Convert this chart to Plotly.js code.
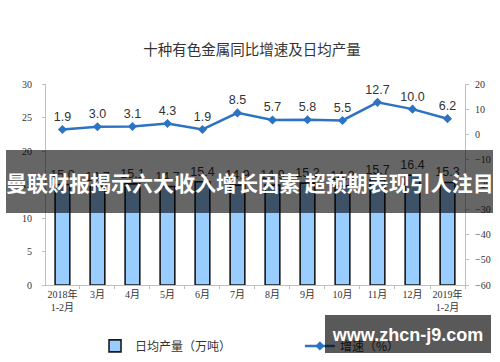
<!DOCTYPE html>
<html>
<head>
<meta charset="utf-8">
<script src="https://cdn.plot.ly/plotly-3.0.1.min.js"></script>
<style>
  html, body { margin: 0; padding: 0; background: #fff; }
  #wrap { position: relative; width: 500px; height: 362px; overflow: hidden; }
  #chart { width: 500px; height: 362px; }
  .banner { position: absolute; left: 6px; top: 150px; width: 487px; height: 63px;
    background: rgba(0,0,0,0.6); color: #fff; font-family: "Noto Sans CJK SC", sans-serif;
    font-weight: bold; font-size: 21px; line-height: 64px; white-space: nowrap; text-align: center; }
  .mark { position: absolute; left: 325px; top: 315px; width: 166px; height: 38px;
    background: rgba(0,0,0,0.65); color: #fff; font-family: "Liberation Sans", Arial, sans-serif;
    font-weight: bold; font-size: 18px; line-height: 40px; text-align: center; white-space: nowrap; }
</style>
</head>
<body>
<div id="wrap">
  <div id="chart"></div>
  <div class="banner">曼联财报揭示六大收入增长因素 超预期表现引人注目</div>
  <div class="mark">www.zhcn-j9.com</div>
</div>
<script>
const categories = ["2018年<br>1-2月", "3月", "4月", "5月", "6月", "7月", "8月", "9月", "10月", "11月", "12月", "2019年<br>1-2月"];
const dailyOutput = [15.0, 14.7, 15.1, 14.7, 15.4, 14.9, 14.9, 15.2, 14.8, 15.7, 16.4, 15.3];
const growthRate = [1.9, 3.0, 3.1, 4.3, 1.9, 8.5, 5.7, 5.8, 5.5, 12.7, 10.0, 6.2];
const barName = "日均产量（万吨）";
const lineName = "增速（%）";
const titleText = "十种有色金属同比增速及日均产量";

const cjk = '"Noto Sans CJK SC", sans-serif';
const serifFont = '"Liberation Serif", "Noto Sans CJK SC", serif';
const sansFont = '"Liberation Sans", Arial, sans-serif';

const traces = [
  {
    type: "bar", name: barName, x: categories, y: dailyOutput,
    marker: { color: "#99CCFF", line: { color: "#1a1a1a", width: 1.6 } },
    width: 0.42,
    text: dailyOutput.map(v => v.toFixed(1)), textposition: "outside", constraintext: "none",
    textfont: { family: sansFont, size: 12.5, color: "#333" },
    cliponaxis: false, hoverinfo: "skip", legend: "legend"
  },
  {
    type: "scatter", mode: "lines+markers+text", name: lineName, x: categories, y: growthRate,
    yaxis: "y2",
    line: { color: "#2d73c4", width: 2.5 },
    marker: { symbol: "diamond", size: 7, color: "#2d73c4" },
    text: growthRate.map(v => v.toFixed(1)), textposition: "top center",
    textfont: { family: sansFont, size: 12.5, color: "#333" },
    cliponaxis: false, hoverinfo: "skip", legend: "legend2"
  }
];

const legendCommon = {
  orientation: "h", xanchor: "left", y: -0.303, yanchor: "middle",
  font: { family: cjk, size: 12, color: "#333" }, bgcolor: "rgba(0,0,0,0)"
};

const layout = {
  width: 500, height: 362,
  margin: { l: 46, r: 35, t: 84, b: 77, autoexpand: false },
  paper_bgcolor: "#fff", plot_bgcolor: "#fff",
  showlegend: true,
  title: { text: titleText, x: 0.504, xanchor: "center", y: 0.862, yanchor: "middle",
    font: { family: cjk, size: 14.5, color: "#333" } },
  xaxis: {
    type: "category", range: [-0.47, 11.5], autorange: false,
    showline: true, linecolor: "#bfbfbf", linewidth: 1,
    ticks: "outside", ticklen: 3, tickcolor: "#bfbfbf", tickson: "boundaries",
    showgrid: false, zeroline: false, tickangle: 0,
    tickfont: { family: serifFont, size: 10, color: "#333" }
  },
  yaxis: {
    range: [0, 30], dtick: 5, showline: true, linecolor: "#bfbfbf", linewidth: 1,
    ticks: "outside", ticklen: 3, tickcolor: "#bfbfbf", showgrid: false, zeroline: false,
    tickfont: { family: serifFont, size: 10, color: "#333" }, ticklabelstandoff: 8
  },
  yaxis2: {
    range: [-60, 20], dtick: 10, overlaying: "y", side: "right",
    showline: true, linecolor: "#bfbfbf", linewidth: 1,
    ticks: "outside", ticklen: 3, tickcolor: "#bfbfbf", showgrid: false, zeroline: false,
    tickfont: { family: serifFont, size: 10, color: "#333" }, ticklabelstandoff: 4
  },
  legend: Object.assign({}, legendCommon, { x: 0.117 }),
  legend2: Object.assign({}, legendCommon, { x: 0.606 })
};

Plotly.newPlot("chart", traces, layout, { displayModeBar: false, staticPlot: true });
</script>
</body>
</html>
